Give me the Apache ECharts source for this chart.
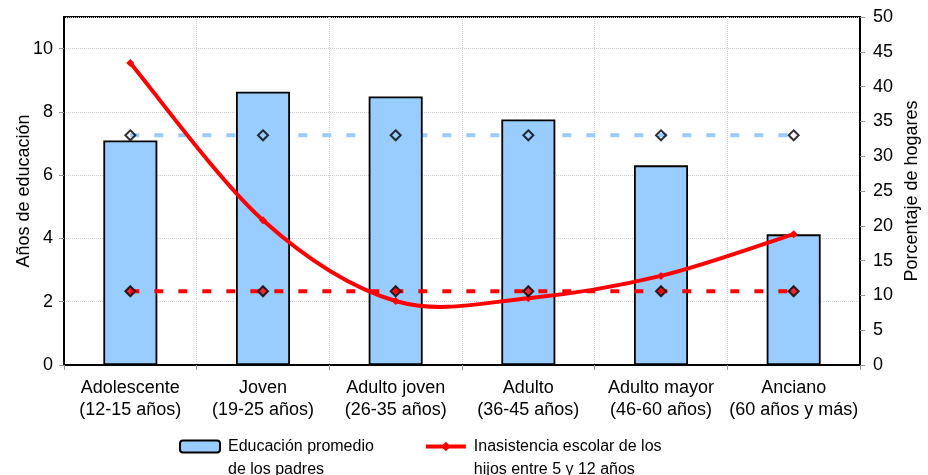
<!DOCTYPE html>
<html>
<head>
<meta charset="utf-8">
<script src="https://cdn.jsdelivr.net/npm/echarts@6/dist/echarts.min.js"></script>
<style>html,body{margin:0;padding:0;background:#fff}#c{width:928px;height:475px}</style>
</head>
<body>
<div id="c"></div>
<script>
const categories = ['Adolescente\n(12-15 años)', 'Joven\n(19-25 años)', 'Adulto joven\n(26-35 años)', 'Adulto\n(36-45 años)', 'Adulto mayor\n(46-60 años)', 'Anciano\n(60 años y más)'];
const educacion = [7.1, 8.64, 8.49, 7.76, 6.31, 4.13];
const inasistencia = [43.4, 20.8, 9.2, 9.6, 12.8, 18.8];
const promedioEducacion = [33.0, 33.0, 33.0, 33.0, 33.0, 33.0];
const promedioInasistencia = [10.6, 10.6, 10.6, 10.6, 10.6, 10.6];
const leftTicks = {min: 0, max: 11, interval: 2};
const rightTicks = {min: 0, max: 50, interval: 5};
const nameBar = 'Educación promedio\nde los padres';
const nameLine = 'Inasistencia escolar de los\nhijos entre 5 y 12 años';

const FONT = 'Liberation Sans, Arial, sans-serif';
const RED = '#ff0000';
const BLUE = '#99ccff';
const DASH = [9, 15];
const chart = echarts.init(document.getElementById('c'), null, {renderer: 'canvas'});

// Smooth curve (Catmull-Rom style Bezier) through the data points, placed via the axes.
function renderCurve(params, api) {
  const i = params.dataIndex;
  const n = inasistencia.length;
  if (i >= n - 1) return null;
  const P = j => {
    const k = Math.max(0, Math.min(n - 1, j));
    return api.coord([k, inasistencia[k]]);
  };
  const p0 = P(i - 1), p1 = P(i), p2 = P(i + 1), p3 = P(i + 2);
  return {
    type: 'bezierCurve',
    shape: {
      x1: p1[0], y1: p1[1], x2: p2[0], y2: p2[1],
      cpx1: p1[0] + (p2[0] - p0[0]) / 6, cpy1: p1[1] + (p2[1] - p0[1]) / 6,
      cpx2: p2[0] - (p3[0] - p1[0]) / 6, cpy2: p2[1] - (p3[1] - p1[1]) / 6
    },
    style: {stroke: RED, lineWidth: 4, fill: null, lineCap: 'round'}
  };
}

chart.setOption({
  animation: false,
  textStyle: {fontFamily: FONT, color: '#000'},
  grid: {left: 64, right: 68, top: 17, bottom: 110, show: true, borderColor: '#000', borderWidth: 2, backgroundColor: '#fff', containLabel: false, outerBoundsMode: 'none'},
  legend: {
    data: [nameBar, {name: nameLine, lineStyle: {color: RED, width: 4, opacity: 1}}],
    top: 407, left: 174,
    itemWidth: 40, itemHeight: 12, itemGap: 50,
    formatter: n => ' \n' + n,
    textStyle: {fontSize: 16, color: '#000', fontFamily: FONT, lineHeight: 23, padding: [0, 0, 0, 3]}
  },
  xAxis: {
    type: 'category', data: categories, boundaryGap: true,
    axisLine: {lineStyle: {color: '#000', width: 2}},
    axisTick: {show: true, length: 5, lineStyle: {color: '#999'}},
    axisLabel: {fontSize: 18, color: '#000', lineHeight: 22, margin: 12, interval: 0, fontFamily: FONT},
    splitLine: {show: true, lineStyle: {color: '#d0d0d0', type: 'dotted', width: 1}}
  },
  yAxis: [
    {
      type: 'value', min: leftTicks.min, max: leftTicks.max, interval: leftTicks.interval,
      name: 'Años de educación', nameLocation: 'middle', nameGap: 31, nameMoveOverlap: false,
      nameTextStyle: {fontSize: 18, color: '#000', fontFamily: FONT},
      axisLine: {show: true, lineStyle: {color: '#000', width: 2}},
      axisTick: {show: true, length: 5, lineStyle: {color: '#999'}},
      axisLabel: {fontSize: 18, color: '#000', margin: 11, showMaxLabel: false, fontFamily: FONT},
      splitLine: {show: true, lineStyle: {color: '#d0d0d0', type: 'dotted', width: 1}}
    },
    {
      type: 'value', min: rightTicks.min, max: rightTicks.max, interval: rightTicks.interval, position: 'right',
      name: 'Porcentaje de hogares', nameLocation: 'middle', nameGap: 43, nameMoveOverlap: false,
      nameTextStyle: {fontSize: 18, color: '#000', fontFamily: FONT},
      axisLine: {show: true, lineStyle: {color: '#000', width: 2}},
      axisTick: {show: true, length: 5, lineStyle: {color: '#999'}},
      axisLabel: {fontSize: 18, color: '#000', margin: 13, fontFamily: FONT},
      splitLine: {show: false}
    }
  ],
  series: [
    {
      name: 'promedio-edu-line', type: 'line', yAxisIndex: 1, data: promedioEducacion, z: 1,
      symbol: 'none', lineStyle: {color: BLUE, width: 4, type: DASH}, silent: true
    },
    {
      name: nameBar, type: 'bar', data: educacion, barWidth: 54, z: 2,
      itemStyle: {color: BLUE, borderColor: '#000', borderWidth: 1.8}
    },
    {
      name: 'promedio-ina-line', type: 'line', yAxisIndex: 1, data: promedioInasistencia, z: 3,
      symbol: 'none', lineStyle: {color: RED, width: 4, type: DASH}, silent: true
    },
    {
      name: 'curva', type: 'custom', yAxisIndex: 1, z: 4, silent: true,
      data: inasistencia.map((v, i) => [i, v]),
      encode: {x: 0, y: 1},
      renderItem: renderCurve
    },
    {
      name: nameLine, type: 'line', yAxisIndex: 1, data: inasistencia, z: 4,
      symbol: 'diamond', symbolSize: 8,
      lineStyle: {color: RED, width: 4, opacity: 0}, itemStyle: {color: RED}
    },
    {
      name: 'marks-edu', type: 'scatter', yAxisIndex: 1, data: promedioEducacion, z: 5,
      symbol: 'diamond', symbolSize: 10,
      itemStyle: {color: 'rgba(0,0,0,0)', borderColor: '#000', borderWidth: 2}
    },
    {
      name: 'marks-ina', type: 'scatter', yAxisIndex: 1, data: promedioInasistencia, z: 5,
      symbol: 'diamond', symbolSize: 10,
      itemStyle: {color: RED, borderColor: '#000', borderWidth: 2}
    }
  ]
});
</script>
</body>
</html>
